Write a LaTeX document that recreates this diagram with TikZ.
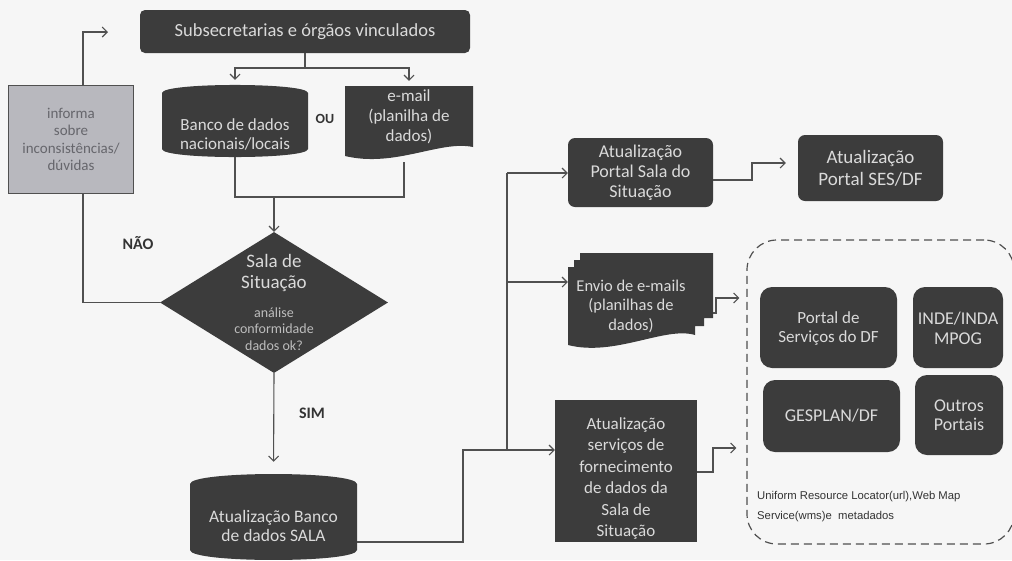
\documentclass[tikz,border=0pt]{standalone}
\usepackage{fontspec}
\setmainfont{Carlito}
\newfontfamily\arialf{Liberation Sans}
\usetikzlibrary{arrows.meta,shapes.geometric}
\definecolor{boxc}{HTML}{3C3C3C}
\definecolor{txtc}{HTML}{DADADA}
\definecolor{smalltxt}{HTML}{BDBDBD}
\definecolor{linec}{HTML}{505050}
\definecolor{bgc}{HTML}{F6F6F6}
\definecolor{infoc}{HTML}{B8B8BE}
\definecolor{infotxt}{HTML}{66666C}
\definecolor{labc}{HTML}{333333}
\begin{document}
\begin{tikzpicture}[x=1pt,y=-1pt,
  conn/.style={draw=linec, line width=1.1pt},
  arr/.style={conn, -{Straight Barb[length=5pt,width=10pt]}},
  darkbox/.style={fill=boxc, text=txtc, align=center, inner sep=0pt, rounded corners=7pt},
  anchorbox/.style={inner sep=0pt},
  wtext/.style={text=txtc, align=center, inner sep=0pt},
  lab/.style={text=labc, font=\bfseries\fontsize{16}{18}\selectfont, inner sep=0pt},
  fA/.style={font=\fontsize{18}{20}\selectfont},
  fB/.style={font=\fontsize{17}{19}\selectfont}
]
\useasboundingbox (0,0) rectangle (1012,560);
\fill[bgc] (0,0) rectangle (1012,560);

% top box
\node[darkbox, rounded corners=5pt, minimum width=330, minimum height=43, font=\fontsize{18.5}{20}\selectfont] (top) at (305,31.5) {Subsecretarias e órgãos vinculados};

% cylinder 1
\fill[boxc] (162,93) .. controls (162,82.3) and (308,82.3) .. (308,93) -- (308,149) .. controls (308,159.7) and (162,159.7) .. (162,149) -- cycle;
\node[anchorbox, minimum width=146, minimum height=72] (cyl1) at (235,121) {};
\node[wtext, fB] (cyl1t) at (235,134) {Banco de dados\\nacionais/locais};

% OU
\node[lab, font=\bfseries\fontsize{14}{16}\selectfont] (ou) at (325,119) {OU};

% email document
\fill[boxc] (345,86) -- (473,86) -- (473,147) .. controls (440,140) and (395,168) .. (345,156) -- cycle;
\node[anchorbox, minimum width=128, minimum height=76] (email) at (409,124) {};
\node[wtext, font=\fontsize{17}{20}\selectfont] (emailt) at (409,117) {e-mail\\(planilha de\\dados)};

% informa box
\node[fill=infoc, draw=linec, line width=1.2pt, minimum width=125, minimum height=108, inner sep=0pt, text=infotxt, align=center, font=\fontsize{15}{17.5}\selectfont] (inf) at (71,139.5) {informa\\sobre\\inconsistências/\\dúvidas};

% diamond
\node[diamond, fill=boxc, minimum width=228, minimum height=141, inner sep=0pt] (dia) at (274,302.5) {};
\node[wtext, font=\fontsize{19}{21}\selectfont] (diat) at (274,273) {Sala de\\Situação};
\node[wtext, text=smalltxt, font=\fontsize{14}{16.5}\selectfont] (dias) at (274,329) {análise\\conformidade\\dados ok?};

\node[lab] (nao) at (138,243) {NÃO};
\node[lab] (sim) at (312,413) {SIM};

% cylinder 2
\fill[boxc] (190,484) .. controls (190,470.7) and (357,470.7) .. (357,484) -- (357,550) .. controls (357,563.3) and (190,563.3) .. (190,550) -- cycle;
\node[anchorbox, minimum width=167, minimum height=86] (cyl2) at (273.5,517) {};
\node[wtext, font=\fontsize{17.5}{18.5}\selectfont] (cyl2t) at (273.5,526) {Atualização Banco\\de dados SALA};

% right side boxes
\node[darkbox, minimum width=145, minimum height=69, fA] (cA) at (640.5,172.5) {Atualização\\Portal Sala do\\Situação};
\node[darkbox, minimum width=145, minimum height=66, font=\fontsize{19}{22}\selectfont] (cB) at (870.5,168) {Atualização\\Portal SES/DF};

% multi document (single silhouette)
\fill[boxc] (580,253) -- (713,253) -- (713,318) -- (704,318) -- (704,326) -- (695,326) -- (695,335)
  .. controls (665,326) and (615,357) .. (568,345) -- (568,267) -- (574,267) -- (574,260) -- (580,260) -- cycle;
\node[anchorbox, minimum width=145, minimum height=92] (env) at (640.5,299) {};
\node[wtext, font=\fontsize{16.5}{19.5}\selectfont] (envt) at (631,306) {Envio de e-mails\\(planilhas de\\dados)};

% box C
\node[fill=boxc, inner sep=0pt, minimum width=142, minimum height=142] (cC) at (626,471) {};
\node[wtext, font=\fontsize{17}{21.5}\selectfont] (cCt) at (626,478.5) {Atualização\\serviços de\\fornecimento\\de dados da\\Sala de\\Situação};

% dashed group
\node[draw=linec, dash pattern=on 8pt off 5pt, line width=1.2pt, rounded corners=30pt, minimum width=267, minimum height=304, inner sep=0pt] (dbox) at (880.5,392) {};
\node[darkbox, rounded corners=12pt, minimum width=137, minimum height=81] (pP) at (828.5,327.5) {};
\node[wtext, fB] (pPt) at (828.5,329) {Portal de\\Serviços do DF};
\node[darkbox, rounded corners=12pt, minimum width=90, minimum height=81] (pI) at (958,327.5) {};
\node[wtext, font=\fontsize{18}{20}\selectfont] (pIt) at (958,328) {INDE/INDA\\MPOG};
\node[darkbox, rounded corners=12pt, minimum width=137, minimum height=72, fA] (pG) at (831.5,416) {GESPLAN/DF};
\node[darkbox, rounded corners=12pt, minimum width=88, minimum height=80, font=\fontsize{18}{19}\selectfont] (pO) at (959,415) {Outros\\Portais};
\node[anchor=west, align=left, inner sep=0pt, text=labc, font=\arialf\fontsize{11.3}{20}\selectfont] (url) at (757,507) {Uniform Resource Locator(url),Web Map\\Service(wms)e\ \ metadados};

% coordinates
\coordinate (j1) at (305,68);
\coordinate (j2) at (274,197);
\coordinate (lx) at (83,0);
\coordinate (fb) at (108,32);
\coordinate (v0) at (463,542);
\coordinate (v1) at (463,450);
\coordinate (v2) at (507,450);
\coordinate (v3) at (507,173);
\coordinate (v4) at (507,282);
\coordinate (a1) at (752,180);
\coordinate (a2) at (752,163);
\coordinate (e1) at (716,313);
\coordinate (e2) at (716,298);
\coordinate (c1) at (713,472);
\coordinate (c2) at (713,448);

% connectors
\draw[conn] (top.south) -- (j1);
\draw[arr, shorten >=5pt] (j1) -| (cyl1.north);
\draw[arr, shorten >=5pt] (j1) -| (email.north);
\draw[conn] (cyl1.south) |- (j2);
\draw[conn] ([xshift=-5pt]email.south) |- (j2);
\draw[arr] (j2) -- (dia.north);
\draw[conn] (dia.west) -| (lx |- inf.south);
\draw[arr] (lx |- inf.north) |- (fb);
\draw[arr, shorten >=12pt] (dia.south) -- (cyl2.north);
\draw[arr] (cyl2.east |- v0) -- (v0) -- (v1) -- (cC.west |- v1);
\draw[conn] (v2) -- (v3);
\draw[arr] (v3) -- (cA.west |- v3);
\draw[arr] (v4) -- (env.west |- v4);
\draw[arr, shorten >=12pt] (cA.east |- a1) -- (a1) -- (a2) -- (cB.west |- a2);
\draw[arr, shorten >=7pt] (env.east |- e1) -- (e1) -- (e2) -- (dbox.west |- e2);
\draw[arr, shorten >=10pt] (cC.east |- c1) -- (c1) -- (c2) -- (dbox.west |- c2);
\end{tikzpicture}
\end{document}
